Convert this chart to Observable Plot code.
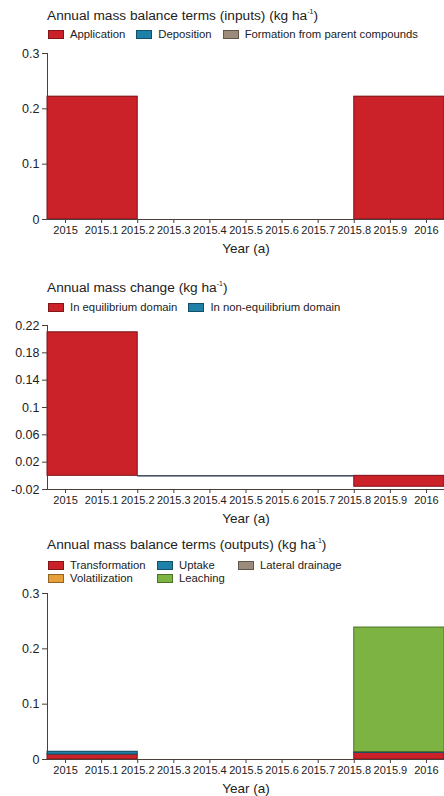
<!DOCTYPE html>
<html><head><meta charset="utf-8">
<script src="https://cdn.jsdelivr.net/npm/d3@7"></script>
<script src="https://cdn.jsdelivr.net/npm/@observablehq/plot@0.6"></script>
<style>
body{margin:0;background:#fff;font-family:"Liberation Sans",Arial,sans-serif;color:#222;width:444px;height:796px;overflow:hidden;position:relative}
.title{position:absolute;left:47px;font-size:13.7px;line-height:14px;white-space:nowrap}
.title sup{font-size:7px;vertical-align:6px;line-height:0}
.legend{position:absolute;left:48px;font-size:11.3px;line-height:13px;white-space:nowrap}
.legend .item{display:inline-flex;align-items:center;margin-right:11px}
.legend.grid{display:grid;grid-template-columns:109px 81px auto}
.sw{display:inline-block;width:14px;height:7px;border:1px solid;margin-right:6px}
.plot{position:absolute;left:0}
</style></head><body>
<script>
// ---- shared ----
const yearTicks = [2015, 2015.1, 2015.2, 2015.3, 2015.4, 2015.5, 2015.6, 2015.7, 2015.8, 2015.9, 2016];
const periodStart = [2014.95, 2015.2, 2015.8];
const periodEnd = [2015.2, 2015.8, 2016.05];
const xLabel = "Year (a)";

// ---- panel 1: inputs ----
const inputTitle = "Annual mass balance terms (inputs) (kg ha<sup>-1</sup>)";
const inputSeries = ["Application", "Deposition", "Formation from parent compounds"];
const inputColors = ["#cb2229", "#1f81a8", "#9c8a7b"];
const application = [0.222, 0, 0.222];
const deposition = [0, 0, 0];
const formation = [0, 0, 0];
const inputTicks = [0, 0.1, 0.2, 0.3];

// ---- panel 2: mass change ----
const changeTitle = "Annual mass change (kg ha<sup>-1</sup>)";
const changeSeries = ["In equilibrium domain", "In non-equilibrium domain"];
const changeColors = ["#cb2229", "#1f81a8"];
const equilibrium = [0.21, 0, -0.016];
const nonEquilibrium = [0, 0, 0];
const changeTicks = [-0.02, 0.02, 0.06, 0.1, 0.14, 0.18, 0.22];

// ---- panel 3: outputs ----
const outputTitle = "Annual mass balance terms (outputs) (kg ha<sup>-1</sup>)";
const outputSeries = ["Transformation", "Volatilization", "Uptake", "Leaching", "Lateral drainage"];
const outputColors = ["#cb2229", "#e8a03a", "#1f81a8", "#7cb342", "#9c8a7b"];
const transformation = [0.009, 0, 0.012];
const volatilization = [0, 0, 0];
const uptake = [0.005, 0, 0.0015];
const leaching = [0, 0, 0.225];
const lateralDrainage = [0, 0, 0];
const outputLegendOrder = ["Transformation", "Uptake", "Lateral drainage", "Volatilization", "Leaching"];
const outputTicks = [0, 0.1, 0.2, 0.3];

function stackSegments(names, values, colors) {
  const segs = [];
  for (let i = 0; i < periodStart.length; i++) {
    let pos = 0, neg = 0;
    names.forEach((n, k) => {
      const v = values[k][i];
      let y1, y2;
      if (v >= 0) { y1 = pos; y2 = pos + v; pos = y2; }
      else { y1 = neg; y2 = neg + v; neg = y2; }
      segs.push({x1: periodStart[i], x2: periodEnd[i], y1, y2, v, color: colors[k]});
    });
  }
  return segs;
}
const dark = c => d3.color(c).darker(1.3).formatHex();
const fmt = d => String(d);

function addTitle(html, top) {
  const d = document.createElement("div");
  d.className = "title"; d.style.top = top + "px"; d.innerHTML = html;
  document.body.appendChild(d);
}
function addLegend(names, colors, top, grid) {
  const d = document.createElement("div");
  d.className = "legend" + (grid ? " grid" : ""); d.style.top = top + "px";
  names.forEach((n, k) => {
    const it = document.createElement("span"); it.className = "item";
    const sw = document.createElement("span"); sw.className = "sw";
    sw.style.background = colors[k]; sw.style.borderColor = dark(colors[k]);
    it.appendChild(sw); it.appendChild(document.createTextNode(n));
    d.appendChild(it);
  });
  document.body.appendChild(d);
}
function addPlot(segs, yDomain, yTicks, top, plotHeight) {
  const mt = 9, mb = 36;
  const p = Plot.plot({
    width: 444, height: mt + plotHeight + mb,
    marginLeft: 47, marginRight: 0, marginTop: mt, marginBottom: mb,
    style: {fontFamily: "'Liberation Sans', Arial, sans-serif", color: "#333", background: "transparent", overflow: "visible"},
    x: {domain: [periodStart[0], periodEnd[periodEnd.length - 1]]},
    y: {domain: yDomain},
    color: {type: "identity"},
    marks: [
      Plot.ruleY(segs.filter(d => d.v === 0), {x1: "x1", x2: "x2", y: "y1", stroke: d => dark(d.color), strokeWidth: 1}),
      Plot.rect(segs.filter(d => d.v !== 0), {x1: "x1", x2: "x2", y1: "y1", y2: "y2", fill: "color", stroke: d => dark(d.color), strokeWidth: 1}),
      Plot.ruleX([periodStart[0]], {stroke: "#4a3f3a", strokeWidth: 1}),
      Plot.ruleY([yDomain[0]], {stroke: "#4a3f3a", strokeWidth: 1}),
      Plot.axisY(yTicks, {tickSize: 5, tickPadding: 3, fontSize: 12.5, tickFormat: fmt, label: null, fill: "#222", stroke: "#4a3f3a"}),
      Plot.axisX(yearTicks, {tickSize: 4, tickPadding: 3, fontSize: 11, tickFormat: fmt, label: null, fill: "#222", stroke: "#4a3f3a"}),
      Plot.text([xLabel], {frameAnchor: "bottom", dy: 33, lineAnchor: "bottom", fontSize: 13.5, fill: "#222"})
    ]
  });
  p.classList.add("plot");
  p.style.top = top + "px";
  document.body.appendChild(p);
}

// panel 1
addTitle(inputTitle, 9);
addLegend(inputSeries, inputColors, 28, false);
addPlot(stackSegments(inputSeries, [application, deposition, formation], inputColors), [0, 0.3], inputTicks, 44, 166);

// panel 2
addTitle(changeTitle, 281);
addLegend(changeSeries, changeColors, 301, false);
addPlot(stackSegments(changeSeries, [equilibrium, nonEquilibrium], changeColors), [-0.02, 0.22], changeTicks, 316, 164);

// panel 3
addTitle(outputTitle, 538);
const outVals = [transformation, volatilization, uptake, leaching, lateralDrainage];
addLegend(outputLegendOrder, outputLegendOrder.map(n => outputColors[outputSeries.indexOf(n)]), 559, true);
addPlot(stackSegments(outputSeries, outVals, outputColors), [0, 0.3], outputTicks, 584, 166);
</script>
</body></html>
